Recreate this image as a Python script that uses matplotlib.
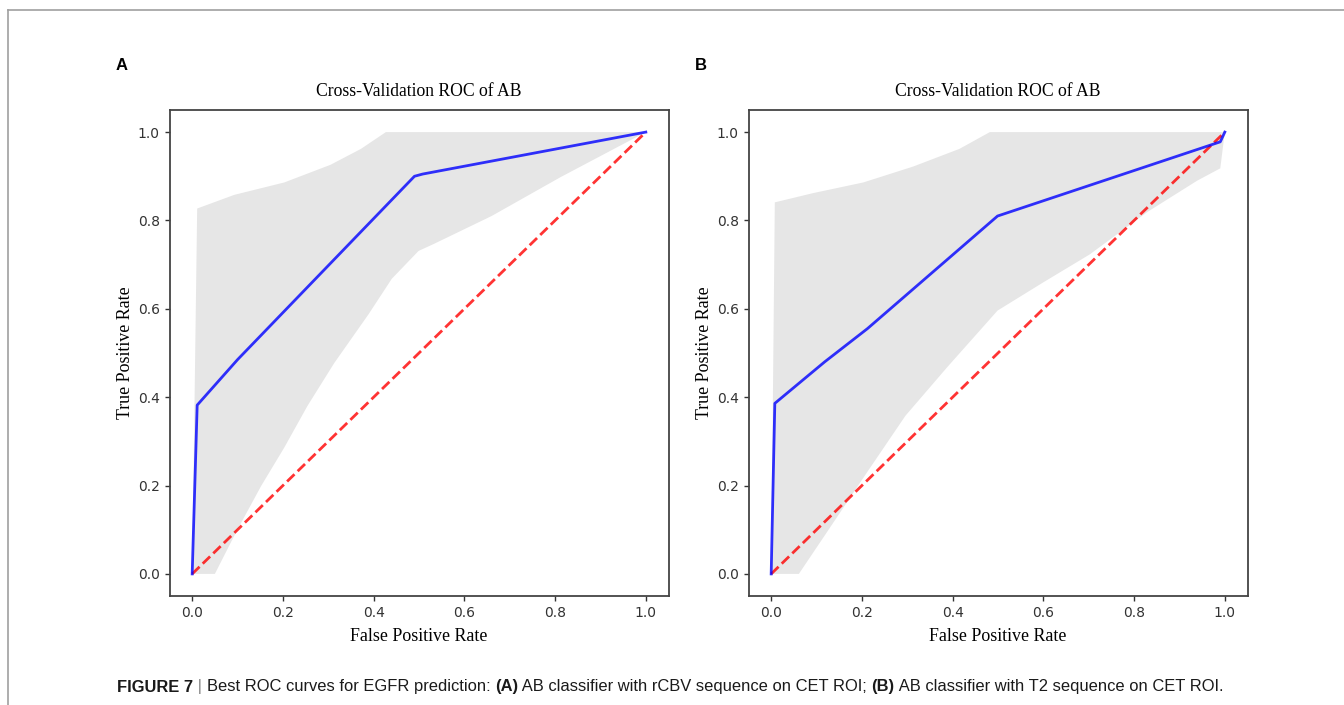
"""Two cross-validation ROC panels (AB classifier) with caption."""
import matplotlib
matplotlib.use("Agg")
import matplotlib.pyplot as plt
from matplotlib.lines import Line2D

# panel A: mean ROC and +/- 1 std band
fpr_a = [0.0, 0.011, 0.10, 0.49, 0.508, 1.0]
tpr_a = [0.0, 0.382, 0.485, 0.900, 0.905, 1.0]
upper_x_a = [0.0, 0.011, 0.093, 0.203, 0.305, 0.372, 0.427, 1.0]
upper_a = [0.0, 0.827, 0.858, 0.886, 0.926, 0.962, 1.0, 1.0]
lower_x_a = [0.0, 0.05, 0.097, 0.152, 0.203, 0.254, 0.313, 0.389, 0.44, 0.499,
             0.533, 0.66, 0.812, 1.0]
lower_a = [0.0, 0.0, 0.095, 0.199, 0.286, 0.38, 0.477, 0.588, 0.668, 0.731,
           0.747, 0.81, 0.898, 1.0]

# panel B
fpr_b = [0.0, 0.008, 0.118, 0.212, 0.499, 0.99, 1.0]
tpr_b = [0.0, 0.386, 0.48, 0.555, 0.81, 0.978, 1.0]
upper_x_b = [0.0, 0.008, 0.093, 0.203, 0.313, 0.415, 0.482, 1.0]
upper_b = [0.0, 0.841, 0.862, 0.886, 0.922, 0.962, 1.0, 1.0]
lower_x_b = [0.0, 0.061, 0.118, 0.212, 0.296, 0.389, 0.499, 0.6, 0.702, 0.829,
             0.939, 0.99, 1.0]
lower_b = [0.0, 0.0, 0.087, 0.231, 0.358, 0.469, 0.596, 0.66, 0.723, 0.819,
           0.89, 0.918, 1.0]

ticks = [0.0, 0.2, 0.4, 0.6, 0.8, 1.0]
tick_labels = ["0.0", "0.2", "0.4", "0.6", "0.8", "1.0"]
panels = [
    ("A", fpr_a, tpr_a, upper_x_a, upper_a, lower_x_a, lower_a),
    ("B", fpr_b, tpr_b, upper_x_b, upper_b, lower_x_b, lower_b),
]

W, H = 1344, 705
SERIF = ["Liberation Serif", "DejaVu Serif"]
SANS = ["Liberation Sans", "DejaVu Sans"]

fig = plt.figure(figsize=(W / 100, H / 100), dpi=100)

# thin grey frame (top and left edges of the page box)
fig.add_artist(Line2D([8 / W, 1.0], [1 - 9.5 / H, 1 - 9.5 / H], transform=fig.transFigure,
                      color="#a0a0a0", lw=1.2))
fig.add_artist(Line2D([8 / W, 8 / W], [0.0, 1 - 9.5 / H], transform=fig.transFigure,
                      color="#a0a0a0", lw=1.2))

lefts = [169.5, 748.5]
for (letter, fpr, tpr, ux, up, lx, lo), left in zip(panels, lefts):
    ax = fig.add_axes([left / W, (H - 596) / H, 499 / W, 486 / H])
    # band polygon: upper edge left->right, lower edge right->left
    ax.fill(list(ux) + list(lx[::-1]), list(up) + list(lo[::-1]),
            color="#c8c8c8", alpha=0.45, lw=0)
    ax.plot([0, 1], [0, 1], ls="--", lw=2, color="r", alpha=0.8)
    ax.plot(fpr, tpr, color="b", lw=2, alpha=0.8)
    ax.set_xlim(-0.05, 1.05)
    ax.set_ylim(-0.05, 1.05)
    ax.set_xticks(ticks)
    ax.set_xticklabels(tick_labels)
    ax.set_yticks(ticks)
    ax.set_yticklabels(tick_labels)
    ax.tick_params(labelsize=10, colors="#333333", length=3.5, width=1.0)
    for s in ax.spines.values():
        s.set_color("#444444")
        s.set_linewidth(1.3)
    ax.set_title("Cross-Validation ROC of AB", family=SERIF, fontsize=12.7, pad=10)
    ax.set_xlabel("False Positive Rate", family=SERIF, fontsize=12.9, labelpad=6)
    ax.set_ylabel("True Positive Rate", family=SERIF, fontsize=12.9, labelpad=3)
    fig.text((left - 48) / W, 1 - 66 / H, letter, family=SANS, fontsize=12,
             fontweight="bold", ha="center", va="center")

# caption with bold runs, laid out piece by piece
caption = [
    ("FIGURE 7", "bold", "#1a1a1a"),
    (" | ", "normal", "#888888"),
    ("Best ROC curves for EGFR prediction: ", "normal", "#1a1a1a"),
    ("(A)", "bold", "#1a1a1a"),
    (" AB classifier with rCBV sequence on CET ROI; ", "normal", "#1a1a1a"),
    ("(B)", "bold", "#1a1a1a"),
    (" AB classifier with T2 sequence on CET ROI.", "normal", "#1a1a1a"),
]
renderer = fig.canvas.get_renderer()
x = 117
for txt, weight, col in caption:
    t = fig.text(x / W, 1 - 687 / H, txt, family=SANS, fontsize=11.9, fontweight=weight,
                 color=col, ha="left", va="center")
    x += t.get_window_extent(renderer).width

fig.savefig("out.png", dpi=100)
